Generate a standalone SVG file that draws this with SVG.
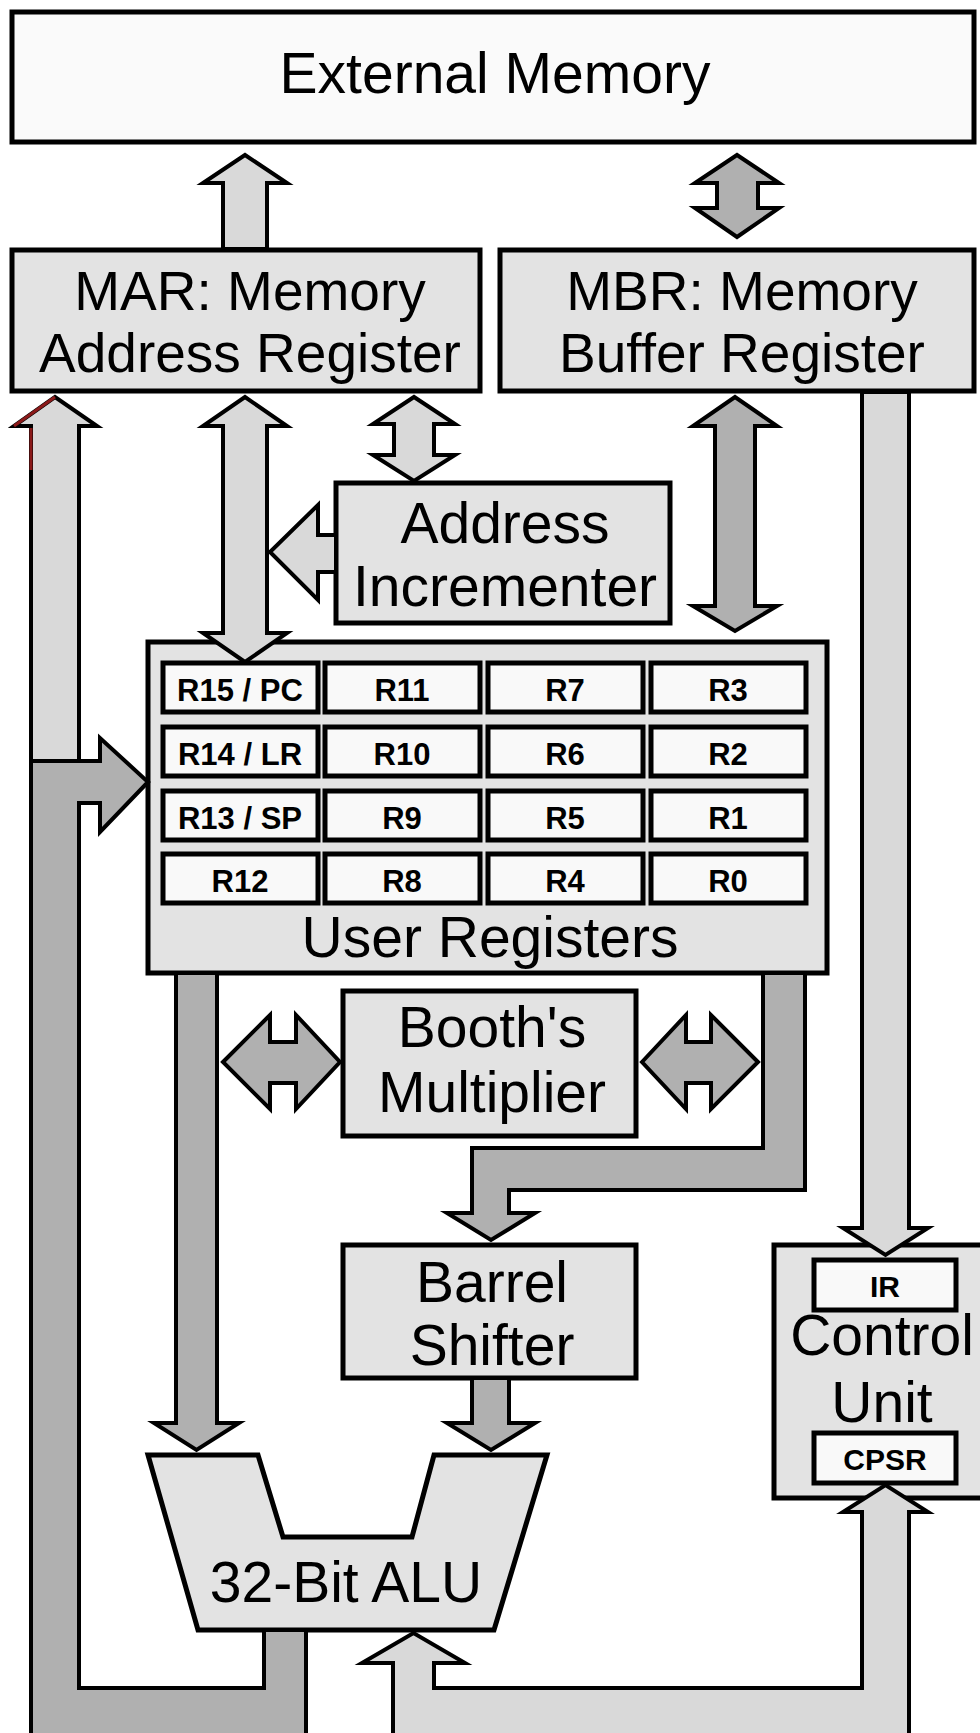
<svg xmlns="http://www.w3.org/2000/svg" width="980" height="1733" viewBox="0 0 980 1733">
<style>
.mem{fill:#fafafa;stroke:#000;stroke-width:5}
.box{fill:#e3e3e3;stroke:#000;stroke-width:5}
.cell{fill:#f9f9f9;stroke:#000;stroke-width:5}
.lt{fill:#d9d9d9;stroke:#000;stroke-width:4;stroke-linejoin:miter}
.dk{fill:#b0b0b0;stroke:#000;stroke-width:4;stroke-linejoin:miter}
.t{font-family:"Liberation Sans",Arial,Helvetica,sans-serif;font-size:57px;text-anchor:middle;fill:#000}
.t2{font-family:"Liberation Sans",Arial,Helvetica,sans-serif;font-size:55px;text-anchor:middle;fill:#000}
.r{font-family:"Liberation Sans",Arial,Helvetica,sans-serif;font-size:31px;font-weight:bold;text-anchor:middle;fill:#000}
.s{font-family:"Liberation Sans",Arial,Helvetica,sans-serif;font-size:30px;font-weight:bold;text-anchor:middle;fill:#000}
</style>
<rect width="980" height="1733" fill="#ffffff"/>

<g id="external-memory">
<rect class="mem" x="12" y="12" width="962" height="130"/>
<text class="t" x="495" y="93">External Memory</text>
</g>
<g id="mar">
<rect class="box" x="12" y="250" width="468" height="141"/>
<text class="t2" x="250" y="310">MAR: Memory</text>
<text class="t2" x="250" y="372">Address Register</text>
</g>
<g id="mbr">
<rect class="box" x="500" y="250" width="474" height="141"/>
<text class="t2" x="742" y="310">MBR: Memory</text>
<text class="t2" x="742" y="372">Buffer Register</text>
</g>
<g id="address-incrementer">
<rect class="box" x="336" y="483" width="334" height="140"/>
<text class="t" x="505" y="543">Address</text>
<text class="t" x="505" y="606">Incrementer</text>
</g>
<g id="user-registers">
<rect class="box" x="148" y="642" width="679" height="331"/>
<g id="r15"><rect class="cell" x="163" y="663" width="155" height="49"/><text class="r" x="240" y="701">R15 / PC</text></g>
<g id="r11"><rect class="cell" x="325" y="663" width="155" height="49"/><text class="r" x="402" y="701">R11</text></g>
<g id="r7"><rect class="cell" x="488" y="663" width="155" height="49"/><text class="r" x="565" y="701">R7</text></g>
<g id="r3"><rect class="cell" x="651" y="663" width="155" height="49"/><text class="r" x="728" y="701">R3</text></g>
<g id="r14"><rect class="cell" x="163" y="727" width="155" height="49"/><text class="r" x="240" y="765">R14 / LR</text></g>
<g id="r10"><rect class="cell" x="325" y="727" width="155" height="49"/><text class="r" x="402" y="765">R10</text></g>
<g id="r6"><rect class="cell" x="488" y="727" width="155" height="49"/><text class="r" x="565" y="765">R6</text></g>
<g id="r2"><rect class="cell" x="651" y="727" width="155" height="49"/><text class="r" x="728" y="765">R2</text></g>
<g id="r13"><rect class="cell" x="163" y="791" width="155" height="49"/><text class="r" x="240" y="829">R13 / SP</text></g>
<g id="r9"><rect class="cell" x="325" y="791" width="155" height="49"/><text class="r" x="402" y="829">R9</text></g>
<g id="r5"><rect class="cell" x="488" y="791" width="155" height="49"/><text class="r" x="565" y="829">R5</text></g>
<g id="r1"><rect class="cell" x="651" y="791" width="155" height="49"/><text class="r" x="728" y="829">R1</text></g>
<g id="r12"><rect class="cell" x="163" y="854" width="155" height="49"/><text class="r" x="240" y="892">R12</text></g>
<g id="r8"><rect class="cell" x="325" y="854" width="155" height="49"/><text class="r" x="402" y="892">R8</text></g>
<g id="r4"><rect class="cell" x="488" y="854" width="155" height="49"/><text class="r" x="565" y="892">R4</text></g>
<g id="r0"><rect class="cell" x="651" y="854" width="155" height="49"/><text class="r" x="728" y="892">R0</text></g>
<text class="t" x="490" y="957">User Registers</text>
</g>
<g id="booths-multiplier">
<rect class="box" x="343" y="991" width="293" height="145"/>
<text class="t" x="492" y="1047">Booth's</text>
<text class="t" x="492" y="1112">Multiplier</text>
</g>
<g id="barrel-shifter">
<rect class="box" x="343" y="1245" width="293" height="133"/>
<text class="t" x="492" y="1302">Barrel</text>
<text class="t" x="492" y="1365">Shifter</text>
</g>
<g id="control-unit">
<rect class="box" x="774" y="1245" width="220" height="253"/>
<rect class="cell" x="814" y="1260" width="142" height="50"/>
<text class="s" x="885" y="1297">IR</text>
<text class="t" x="882" y="1355">Control</text>
<text class="t" x="882" y="1422">Unit</text>
<rect class="cell" x="814" y="1433" width="142" height="50"/>
<text class="s" x="885" y="1470">CPSR</text>
</g>
<g id="alu">
<polygon class="box" points="148,1455 258,1455 283,1537 412,1537 434,1455 547,1455 494,1630 198,1630"/>
<text class="t" x="346" y="1602">32-Bit ALU</text>
</g>

<g id="connectors">
<polygon class="lt" points="223,249 223,183 203,183 245,155 287,183 267,183 267,249"/>
<polygon class="dk" points="717,183 695,183 737,155 779,183 758,183 758,208 779,208 737,237 695,208 717,208"/>
<polygon class="lt" points="31,761 31,426 14,426 55,397 97,426 79,426 79,761"/>
<polyline points="14,426 55,397" fill="none" stroke="#8b1a1a" stroke-width="3"/>
<polyline points="31,428 31,470" fill="none" stroke="#8b1a1a" stroke-width="3"/>
<polygon class="lt" points="223,426 203,426 245,397 287,426 267,426 267,633 287,633 245,662 203,633 223,633"/>
<polygon class="lt" points="394,424 373,424 414,397 455,424 434,424 434,455 455,455 414,481 373,455 394,455"/>
<polygon class="dk" points="715,426 693,426 735,397 777,426 755,426 755,606 777,606 735,631 693,606 715,606"/>
<polygon class="lt" points="336,535 318,535 318,505 270,552 318,600 318,572 336,572"/>
<polygon class="lt" points="862,392 909,392 909,1228 928,1228 885.5,1255 843,1228 862,1228"/>
<polygon class="dk" points="264,1630 306,1630 306,1745 31,1745 31,761 100,761 100,738 148,782 100,832 100,803 79,803 79,1688 264,1688"/>
<polygon class="dk" points="176,973 217,973 217,1423 239,1423 196.5,1450 154,1423 176,1423"/>
<polygon class="dk" points="763,973 805,973 805,1190 509,1190 509,1213 535,1213 491,1240 447,1213 472,1213 472,1148 763,1148"/>
<polygon class="dk" points="223,1062 270,1015 270,1042 296,1042 296,1015 340,1062 296,1109 296,1083 270,1083 270,1109"/>
<polygon class="dk" points="642,1062 686,1015 686,1042 711,1042 711,1015 758,1062 711,1109 711,1083 686,1083 686,1109"/>
<polygon class="dk" points="472,1378 509,1378 509,1423 535,1423 491,1450 447,1423 472,1423"/>
<polygon class="lt" points="393,1745 393,1663 362,1663 413.5,1633 465,1663 434,1663 434,1688 862,1688 862,1512 843,1512 885.5,1485 928,1512 909,1512 909,1745"/>
</g>
</svg>
